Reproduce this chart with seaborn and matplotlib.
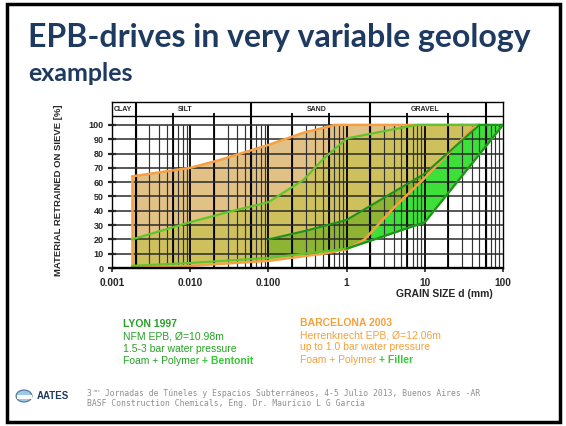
import numpy as np
import matplotlib
matplotlib.use('Agg')
import matplotlib.pyplot as plt
import seaborn as sns
from matplotlib.patches import Rectangle, Circle
from matplotlib.ticker import NullLocator

bcn_top_d = [0.0018, 0.01, 0.024, 0.1, 0.28, 0.72, 50]
bcn_top_p = [64, 70, 75.5, 86, 94.5, 100, 100]
bcn_bot_d = [0.0018, 0.01, 0.1, 0.5, 1.0, 1.7, 4, 10, 20, 45, 50]
bcn_bot_p = [0.5, 1.5, 5, 10, 13, 20, 42, 63, 80, 100, 100]

lyon_top_d = [0.0018, 0.01, 0.03, 0.1, 0.28, 0.5, 1.0, 5, 8, 100]
lyon_top_p = [20, 32, 39, 46, 61.5, 76, 90.5, 98, 100, 100]
lyon_bot_d = [0.0018, 0.01, 0.1, 1.0, 2.0, 10, 100]
lyon_bot_p = [1.5, 3.5, 7, 13.5, 19, 32, 100]

core_top_d = [0.1, 0.3, 1.0, 10, 50, 100]
core_top_p = [20, 26, 33.6, 66, 100, 100]
core_bot_d = [0.1, 1.0, 2.0, 10, 100]
core_bot_p = [7, 13.5, 19, 32, 100]

soil_names = ['CLAY', 'SILT', 'SAND', 'GRAVEL']
soil_pos = [0.00105, 0.0087, 0.41, 10]
main_bounds = [0.002, 0.06, 2, 60]
sub_bounds = [0.006, 0.02, 0.2, 0.6, 6, 20]
x_ticks = [0.001, 0.01, 0.1, 1, 10, 100]
x_labels = ['0.001', '0.010', '0.100', '1', '10', '100']
y_ticks = list(range(0, 101, 10))

sns.set_theme(style='white')
plt.rcParams['font.family'] = ['Liberation Sans', 'DejaVu Sans']

W, H = 566, 426
fig = plt.figure(figsize=(W / 100, H / 100), dpi=100)


def fx(px):
    return px / W


def fy(py):
    return 1 - py / H


ax = fig.add_axes([fx(112), fy(268), fx(503) - fx(112), fy(102) - fy(268)])
ax.set_xscale('log')
ax.set_xlim(0.001, 100)
ax.set_ylim(0, 116)

# rellenos
ax.fill(np.r_[lyon_top_d, lyon_bot_d[::-1]], np.r_[lyon_top_p, lyon_bot_p[::-1]],
        color=(0.82, 1.0, 0.62), lw=0, zorder=1)
ax.fill(np.r_[core_top_d, core_bot_d[::-1]], np.r_[core_top_p, core_bot_p[::-1]],
        color=(0.24, 0.88, 0.22), lw=0, zorder=2)
ax.fill(np.r_[bcn_top_d, bcn_bot_d[::-1]], np.r_[bcn_top_p, bcn_bot_p[::-1]],
        color=(0.80, 0.58, 0.18), alpha=0.58, lw=0, zorder=3)

# rejilla
for dec in [0.001, 0.01, 0.1, 1, 10]:
    for k in range(2, 10):
        ax.vlines(k * dec, 0, 100, color='#333333', lw=0.85, zorder=4)
ax.vlines([0.01, 0.1, 1, 10], 0, 100, color='black', lw=1.3, zorder=4)
ax.vlines(main_bounds, 0, 116, color='black', lw=1.5, zorder=4)
ax.vlines(sub_bounds, 0, 108.5, color='black', lw=1.3, zorder=4)
ax.hlines(y_ticks[1:], 0.001, 100, color='#2a2a2a', lw=1.1, zorder=4)
ax.hlines(106.3, 0.001, 100, color='black', lw=1.0, zorder=4)
ax.hlines(0, 0.001, 100, color='black', lw=2.4, zorder=7)

for name, pos in zip(soil_names, soil_pos):
    ha = 'left' if name == 'CLAY' else 'center'
    ax.text(pos, 111, name, ha=ha, va='center', fontsize=5, fontweight='bold', zorder=8)

# curvas
orange = '#f5a043'
ax.plot(bcn_top_d, bcn_top_p, color=orange, lw=1.8, zorder=6)
ax.plot(bcn_bot_d, bcn_bot_p, color=orange, lw=1.8, zorder=6)
ax.plot([bcn_top_d[0], bcn_bot_d[0]], [bcn_top_p[0], bcn_bot_p[0]], color=orange, lw=1.8, zorder=6)
ax.plot(lyon_top_d, lyon_top_p, color='#62c42c', lw=1.6, zorder=6)
ax.plot(lyon_bot_d, lyon_bot_p, color='#62c42c', lw=1.6, zorder=6)
ax.plot(core_top_d, core_top_p, color='#1c931c', lw=1.5, zorder=6)
ax.plot(core_bot_d[1:], core_bot_p[1:], color='#1c931c', lw=1.5, zorder=6)

for s in ax.spines.values():
    s.set_color('black')
    s.set_linewidth(1.0)

ax.set_yticks(y_ticks)
ax.set_yticklabels([str(v) for v in y_ticks], fontsize=6.5, fontweight='bold')
ax.set_xticks(x_ticks)
ax.set_xticklabels(x_labels, fontsize=7.3, fontweight='bold')
ax.xaxis.set_minor_locator(NullLocator())
ax.tick_params(axis='y', direction='inout', length=6, width=1.6, pad=3, left=True)
ax.tick_params(axis='x', direction='out', length=3, width=1.2, pad=4, bottom=True)
ax.grid(False)

ax.set_ylabel('MATERIAL RETRAINED ON SIEVE [%]', fontsize=6.8, fontweight='bold')
ax.yaxis.set_label_coords(-0.125, 0.47)
ax.set_xlabel('GRAIN SIZE d (mm)', loc='right', fontsize=7.5, fontweight='bold')
ax.xaxis.set_label_coords(0.975, -0.125)

# titulos
navy = '#1f3a60'
fig.text(fx(28), fy(47), 'EPB-drives in very variable geology', family=['Lato', 'DejaVu Sans'],
         fontsize=23, fontweight='bold', color=navy, va='baseline')
fig.text(fx(28), fy(81), 'examples', family=['Lato', 'DejaVu Sans'],
         fontsize=18, fontweight='bold', color=navy, va='baseline')

# bloques de texto
green = '#27a127'
bright = '#35c935'
fig.text(fx(123), fy(324), 'LYON 1997', color=green, fontsize=7.5, fontweight='bold', va='center')
fig.text(fx(123), fy(336.5), 'NFM EPB, Ø=10.98m', color=green, fontsize=7.5, va='center')
fig.text(fx(123), fy(349), '1.5-3 bar water pressure', color=green, fontsize=7.5, va='center')
t1 = fig.text(fx(123), fy(361.5), 'Foam + Polymer ', color=green, fontsize=7.5, va='center')
ax.annotate('+ Bentonit', xy=(1, 0), xycoords=t1, va='bottom', color=bright,
            fontsize=7.5, fontweight='bold', annotation_clip=False)

orange_t = '#f6a03a'
fig.text(fx(300), fy(322.5), 'BARCELONA 2003', color=orange_t, fontsize=7.5, fontweight='bold', va='center')
fig.text(fx(300), fy(335), 'Herrenknecht EPB, Ø=12.06m', color=orange_t, fontsize=7.5, va='center')
fig.text(fx(300), fy(347.5), 'up to 1.0 bar water pressure', color=orange_t, fontsize=7.5, va='center')
t2 = fig.text(fx(300), fy(360), 'Foam + Polymer ', color=orange_t, fontsize=7.5, va='center')
ax.annotate('+ Filler', xy=(1, 0), xycoords=t2, va='bottom', color=bright,
            fontsize=7.5, fontweight='bold', annotation_clip=False)

# pie
gray = '#8f8f8f'
mono = 'DejaVu Sans Mono'
f1 = fig.text(fx(87), fy(396), '3', color=gray, fontsize=5.8, family=mono, va='baseline')
ax.annotate('ras', xy=(1, 0.55), xycoords=f1, color=gray, fontsize=3.2,
            family=mono, va='bottom', annotation_clip=False)
ax.annotate(' Jornadas de Túneles y Espacios Subterráneos, 4-5 Julio 2013, Buenos Aires -AR',
            xy=(1, 0), xycoords=f1, xytext=(6, 0), textcoords='offset points', color=gray,
            fontsize=5.8, family=mono, va='bottom', annotation_clip=False)
fig.text(fx(87), fy(406), 'BASF Construction Chemicals, Eng. Dr. Maurício L G Garcia',
         color=gray, fontsize=5.8, family=mono, va='baseline')

fig.patches.append(Circle((fx(24), fy(396)), 0.014, transform=fig.transFigure,
                          facecolor='#9cc8ea', edgecolor='#4a6f98', lw=0.8))
fig.patches.append(Rectangle((fx(16.5), fy(398.5)), fx(15), 0.009, transform=fig.transFigure,
                             facecolor='white', edgecolor='none'))
fig.text(fx(37), fy(396), 'AATES', color=navy, fontsize=7, fontweight='bold', va='center')

fig.patches.append(Rectangle((fx(7), fy(422)), fx(553), fy(4) - fy(422), transform=fig.transFigure,
                             fill=False, edgecolor='black', lw=2.5))

fig.savefig('out.png', dpi=100, facecolor='white')
